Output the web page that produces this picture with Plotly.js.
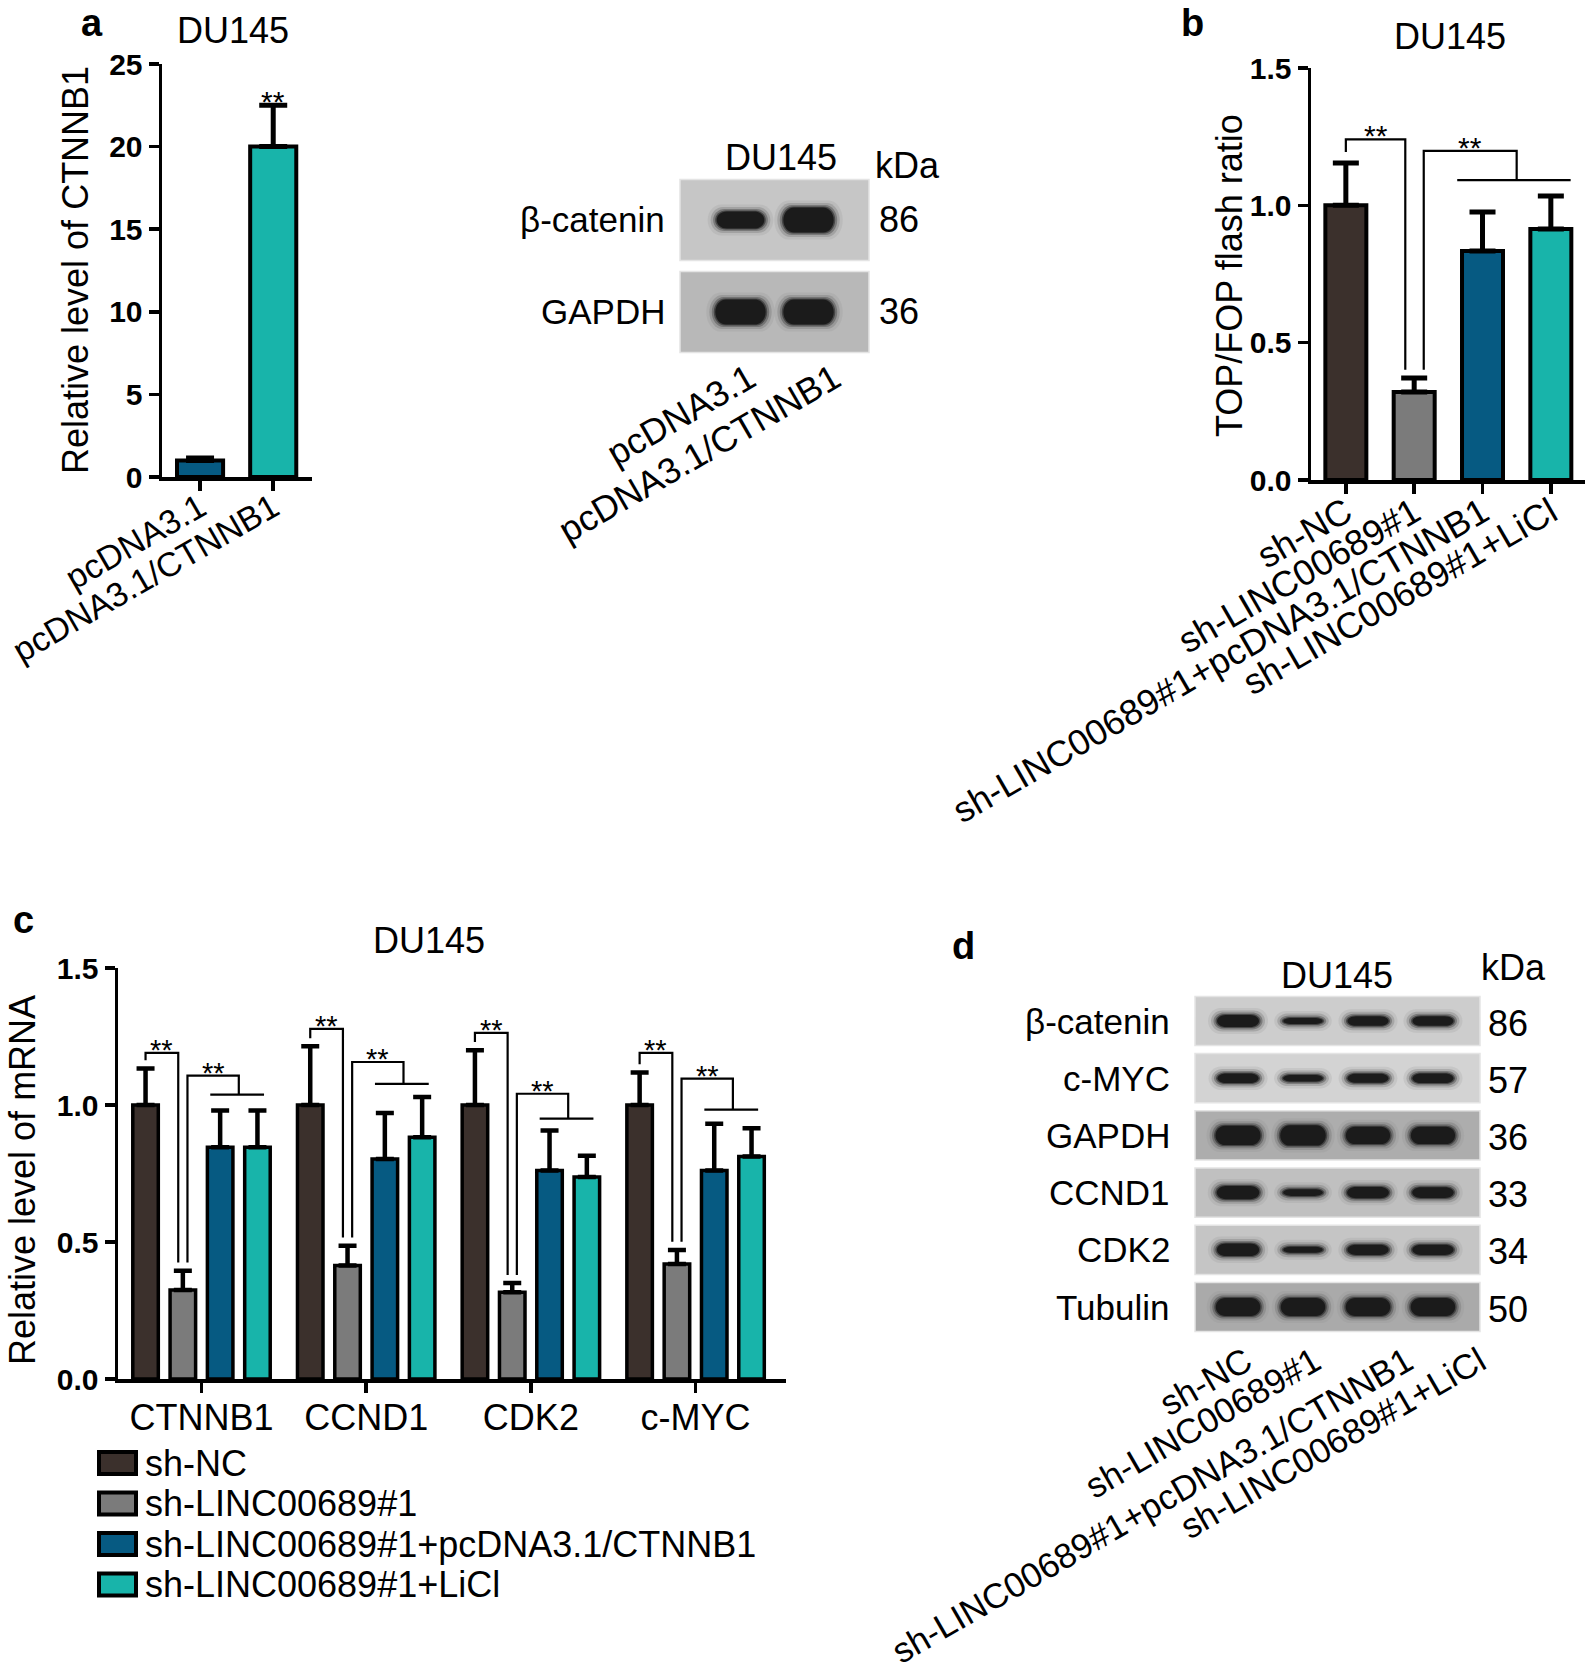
<!DOCTYPE html>
<html><head><meta charset="utf-8">
<script src="https://cdn.plot.ly/plotly-3.0.1.min.js"></script>
<style>html,body{margin:0;padding:0;background:#fff}#chart{width:1595px;height:1672px}</style>
</head><body><div id="chart"></div>
<script>
// ---------------- DATA ----------------
const cellLine = 'DU145';
// panel a – qPCR
const aCategories = ['pcDNA3.1', 'pcDNA3.1/CTNNB1'];
const aValues = [1.0, 20.0];
const aErrors = [0.15, 2.5];
// panel a – western blot (relative band density)
const aBlotProteins = ['β-catenin', 'GAPDH'];
const aBlotKDa = ['86', '36'];
const aBandBcat = [0.95, 1.4];
const aBandGapdh = [1.4, 1.4];
// panel b – TOP/FOP
const groups = ['sh-NC', 'sh-LINC00689#1', 'sh-LINC00689#1+pcDNA3.1/CTNNB1', 'sh-LINC00689#1+LiCl'];
const bValues = [1.0, 0.32, 0.834, 0.914];
const bErrors = [0.154, 0.051, 0.142, 0.12];
const bBracketTops = [1.24, 1.198];
const bBracketLine = 1.092;
// panel c – mRNA
const genes = ['CTNNB1', 'CCND1', 'CDK2', 'c-MYC'];
const cShNC = [1.0, 1.0, 1.0, 1.0];
const cShNCErr = [0.133, 0.214, 0.200, 0.119];
const cShLINC = [0.325, 0.414, 0.317, 0.420];
const cShLINCErr = [0.070, 0.072, 0.033, 0.051];
const cPlusCTNNB1 = [0.846, 0.803, 0.761, 0.761];
const cPlusCTNNB1Err = [0.134, 0.168, 0.146, 0.171];
const cPlusLiCl = [0.846, 0.882, 0.737, 0.812];
const cPlusLiClErr = [0.134, 0.147, 0.078, 0.103];
const cBracket1Top = [1.190, 1.278, 1.263, 1.190];
const cBracket2Top = [1.107, 1.157, 1.041, 1.096];
const cBracket2Line = [1.038, 1.077, 0.950, 0.983];
// panel d – western blot (relative band density)
const dProteins = ['β-catenin', 'c-MYC', 'GAPDH', 'CCND1', 'CDK2', 'Tubulin'];
const dKDa = ['86', '57', '36', '33', '34', '50'];
const dBcat = [1.0, 0.5, 0.8, 0.8];
const dCmyc = [0.8, 0.55, 0.75, 0.8];
const dGapdh = [1.6, 1.7, 1.45, 1.45];
const dCcnd1 = [1.1, 0.55, 0.95, 0.9];
const dCdk2 = [1.05, 0.5, 0.85, 0.85];
const dTubulin = [1.5, 1.5, 1.5, 1.5];

// ---------------- STYLE / LAYOUT ----------------
const W = 1595, H = 1672;
const fx = p => p / W, fy = p => 1 - p / H;
const FONT = 'Liberation Sans, Arial, Helvetica, sans-serif';
const palette = ['#3b302c', '#7b7b7b', '#065a82', '#18b4aa'];
const BLACK = '#000';

const traces = [];
const shapes = [];
const annotations = [];

function txt(x, y, text, opts) {
  annotations.push(Object.assign({x, y, text, xref: 'paper', yref: 'paper', showarrow: false,
    xanchor: 'center', yanchor: 'middle', font: {family: FONT, size: 36, color: BLACK}}, opts || {}));
}
function stars(xa, ya, x, y, size) {
  annotations.push({xref: xa, yref: ya, x: x, y: y, text: '**', showarrow: false, xanchor: 'center',
    yanchor: 'bottom', yshift: -Math.round(size * 0.5), font: {family: FONT, size: size, color: BLACK}});
}
function upErr(arr, w, th) {
  return {type: 'data', symmetric: false, array: arr, arrayminus: arr.map(() => 0),
    color: BLACK, thickness: th, width: w};
}
const barAxisY = (dom, range, tv, fmt, anchor) => ({domain: dom, range: range, tickvals: tv, tickformat: fmt,
  showline: true, linewidth: 3.5, linecolor: BLACK, ticks: 'outside', ticklen: 10, tickwidth: 3.5, anchor: anchor,
  tickcolor: BLACK, showgrid: false, zeroline: false, ticklabeloverflow: 'allow',
  tickfont: {family: FONT, size: 30, color: BLACK, weight: 'bold'}});
const barAxisX = (dom, range, tv, tt, angle, anchor, size, standoff) => ({domain: dom, range: range, tickvals: tv, ticktext: tt,
  tickangle: angle, showline: true, linewidth: 3.5, linecolor: BLACK, ticks: 'outside', ticklen: 10,
  tickwidth: 3.5, tickcolor: BLACK, showgrid: false, zeroline: false, anchor: anchor, ticklabeloverflow: 'allow',
  ticklabelstandoff: standoff, tickfont: {family: FONT, size: size, color: BLACK}});

// panel letters + titles
const letterFont = {family: FONT, size: 38, color: BLACK, weight: 'bold'};
txt(fx(92), 1, 'a', {font: letterFont, yanchor: 'top'});
txt(fx(1192), 1, 'b', {font: letterFont, yanchor: 'top'});
txt(fx(23), fy(920), 'c', {font: letterFont});
txt(fx(963), fy(946), 'd', {font: letterFont});
txt(fx(233), fy(31), cellLine);
txt(fx(781), fy(157), cellLine);
txt(fx(907), fy(165), 'kDa');
txt(fx(1450), fy(37), cellLine);
txt(fx(429), fy(940), cellLine);
txt(fx(1337), fy(975), cellLine);
txt(fx(1513), fy(967), 'kDa');
txt(fx(75), fy(270), 'Relative level of CTNNB1', {textangle: -90});
txt(fx(1229), fy(276), 'TOP/FOP flash ratio', {textangle: -90});
txt(fx(22), fy(1180), 'Relative level of mRNA', {textangle: -90});

// ---------- panel a bars ----------
traces.push({type: 'bar', xaxis: 'x', yaxis: 'y', x: aCategories.map((_, i) => i), y: aValues, width: 0.63,
  marker: {color: [palette[2], palette[3]], line: {color: BLACK, width: 4}},
  error_y: upErr(aErrors, 14, 5), hoverinfo: 'skip', showlegend: false});
stars('x', 'y', 1, aValues[1] + aErrors[1], 30);

// ---------- panel b bars ----------
const bx = groups.map((_, i) => i);
traces.push({type: 'bar', xaxis: 'x3', yaxis: 'y3', x: bx, y: bValues, width: 0.6,
  marker: {color: palette, line: {color: BLACK, width: 4}},
  error_y: upErr(bErrors, 13, 5), hoverinfo: 'skip', showlegend: false});
(function () {
  const top0 = bValues[0] + bErrors[0], top1 = bValues[1] + bErrors[1];
  const xs = [0, 0, 1 - 0.13, 1 - 0.13, null, 1 + 0.14, 1 + 0.14, 2.5, 2.5, null, 2 - 0.37, 3 + 0.29];
  const ys = [top0 + 0.04, bBracketTops[0], bBracketTops[0], top1 + 0.03, null,
    top1 + 0.03, bBracketTops[1], bBracketTops[1], bBracketLine, null, bBracketLine, bBracketLine];
  traces.push({type: 'scatter', mode: 'lines', xaxis: 'x3', yaxis: 'y3', x: xs, y: ys, cliponaxis: false,
    line: {color: BLACK, width: 2.2}, hoverinfo: 'skip', showlegend: false, connectgaps: false});
  stars('x3', 'y3', (0 + 1 - 0.13) / 2, bBracketTops[0], 30);
  stars('x3', 'y3', (1 + 0.14 + 2.5) / 2, bBracketTops[1], 30);
})();

// ---------- panel c grouped bars ----------
const cSeries = [cShNC, cShLINC, cPlusCTNNB1, cPlusLiCl];
const cErrs = [cShNCErr, cShLINCErr, cPlusCTNNB1Err, cPlusLiClErr];
const slot = 0.2265;
const offs = [0, 1, 2, 3].map(k => (k - 1.5) * slot);
cSeries.forEach((vals, k) => {
  traces.push({type: 'bar', xaxis: 'x4', yaxis: 'y4', x: genes.map((_, g) => g + offs[k]), y: vals, width: 0.155,
    marker: {color: palette[k], line: {color: BLACK, width: 3.5}}, name: groups[k],
    error_y: upErr(cErrs[k], 9, 4.5), hoverinfo: 'skip', showlegend: false});
});
(function () {
  const xs = [], ys = [];
  genes.forEach((_, g) => {
    const t0 = cShNC[g] + cShNCErr[g], t1 = cShLINC[g] + cShLINCErr[g];
    const xl = g + offs[0], xr = g + offs[1] - 0.028, xl2 = g + offs[1] + 0.028, xr2 = g + (offs[2] + offs[3]) / 2;
    xs.push(xl, xl, xr, xr, null, xl2, xl2, xr2, xr2, null, g + offs[2] - 0.06, g + offs[3] + 0.04, null);
    ys.push(t0 + 0.03, cBracket1Top[g], cBracket1Top[g], t1 + 0.03, null,
      t1 + 0.03, cBracket2Top[g], cBracket2Top[g], cBracket2Line[g], null, cBracket2Line[g], cBracket2Line[g], null);
    stars('x4', 'y4', (xl + xr) / 2, cBracket1Top[g], 29);
    stars('x4', 'y4', (xl2 + xr2) / 2, cBracket2Top[g], 29);
  });
  traces.push({type: 'scatter', mode: 'lines', xaxis: 'x4', yaxis: 'y4', x: xs, y: ys, cliponaxis: false,
    line: {color: BLACK, width: 2.2}, hoverinfo: 'skip', showlegend: false});
})();
// manual legend for panel c
groups.forEach((name, k) => {
  const yc = 1463 + k * 40.5;
  shapes.push({type: 'rect', xref: 'paper', yref: 'paper', x0: fx(99), x1: fx(136), y0: fy(yc - 11), y1: fy(yc + 11),
    fillcolor: palette[k], line: {color: BLACK, width: 4}});
  txt(fx(143), fy(yc), name, {xanchor: 'left'});
});

// ---------- blots ----------
function capsule(xc, yc, hw, hh, rx) {
  const k = 0.5523, xl = xc - hw, xr = xc + hw, y0 = yc - hh, y1 = yc + hh;
  return `M${xl + rx},${y0} L${xr - rx},${y0} C${xr - rx + k * rx},${y0} ${xr},${yc - k * hh} ${xr},${yc} ` +
    `C${xr},${yc + k * hh} ${xr - rx + k * rx},${y1} ${xr - rx},${y1} L${xl + rx},${y1} ` +
    `C${xl + rx - k * rx},${y1} ${xl},${yc + k * hh} ${xl},${yc} C${xl},${yc - k * hh} ${xl + rx - k * rx},${y0} ${xl + rx},${y0} Z`;
}
const bandLayers = [
  {dw: 18, dh: 14, c: '#8a8a8a', o: 0.18},
  {dw: 12, dh: 9, c: '#626262', o: 0.28},
  {dw: 7, dh: 5, c: '#404040', o: 0.42},
  {dw: 3, dh: 2, c: '#262626', o: 0.6},
  {dw: 0, dh: 0, c: '#141414', o: 0.85}];
function drawBlot(cfg) {
  cfg.rows.forEach((vals, r) => {
    shapes.push({type: 'rect', xref: cfg.xa + ' domain', yref: cfg.ya, x0: 0, x1: 1,
      y0: r - cfg.rowHalf, y1: r + cfg.rowHalf, fillcolor: cfg.bg[r], line: {color: '#e4e4e4', width: 1.5}, layer: 'above'});
    vals.forEach((v, lane) => {
      const hpx = cfg.hScale * v, wpx = cfg.wBase + cfg.wScale * v;
      bandLayers.forEach(L => {
        const hw = (wpx + L.dw) / 2 / cfg.xPx, hh = (hpx + L.dh) / 2 / cfg.yPx;
        shapes.push({type: 'path', xref: cfg.xa, yref: cfg.ya,
          path: capsule(lane, r, hw, hh, Math.min(hw * 0.42, 14 / cfg.xPx)),
          fillcolor: L.c, opacity: L.o, line: {width: 0}, layer: 'above'});
      });
    });
  });
}
// panel a blot geometry
const aBlotX = [680, 869], aBlotY = [174, 358];
const aXRange = [-0.889, 1.889];
const aLabelPos = [0.13, 1.38];
drawBlot({xa: 'x2', ya: 'y2', xPx: (aBlotX[1] - aBlotX[0]) / (aXRange[1] - aXRange[0]), yPx: 92,
  rows: [aBandBcat, aBandGapdh], bg: ['#c6c6c6', '#b8b8b8'], rowHalf: 0.44, hScale: 18, wBase: 42, wScale: 6});
aBlotProteins.forEach((p, r) => {
  annotations.push({xref: 'paper', yref: 'y2', x: fx(667), y: r, text: p, xanchor: 'right', yanchor: 'middle',
    showarrow: false, font: {family: FONT, size: 35, color: BLACK}});
  annotations.push({xref: 'paper', yref: 'y2', x: fx(877), y: r, text: aBlotKDa[r], xanchor: 'left', yanchor: 'middle',
    showarrow: false, font: {family: FONT, size: 36, color: BLACK}});
});
// panel d blot geometry
const dBlotX = [1195, 1480], dBlotY = [992.4, 1335.6];
const dXRange = [-0.662, 3.724];
const dLabelPos = [0.12, 1.18, 2.6, 3.72];
const dRows = [dBcat, dCmyc, dGapdh, dCcnd1, dCdk2, dTubulin];
drawBlot({xa: 'x5', ya: 'y5', xPx: (dBlotX[1] - dBlotX[0]) / (dXRange[1] - dXRange[0]), yPx: (dBlotY[1] - dBlotY[0]) / 6,
  rows: dRows, bg: ['#cdcdcd', '#d3d3d3', '#adadad', '#c0c0c0', '#c5c5c5', '#aaaaaa'], rowHalf: 0.43,
  hScale: 12, wBase: 37, wScale: 5});
dProteins.forEach((p, r) => {
  annotations.push({xref: 'paper', yref: 'y5', x: fx(1172), y: r, text: p, xanchor: 'right', yanchor: 'middle',
    showarrow: false, font: {family: FONT, size: 35, color: BLACK}});
  annotations.push({xref: 'paper', yref: 'y5', x: fx(1486), y: r, text: dKDa[r], xanchor: 'left', yanchor: 'middle',
    showarrow: false, yshift: -2, font: {family: FONT, size: 36, color: BLACK}});
});

const hiddenY = (dom, range, anchor) => ({domain: dom, range: range, visible: false, fixedrange: true, anchor: anchor});
const laneX = (dom, range, pos, labels, anchor, size, standoff) => ({domain: dom, range: range, tickvals: pos,
  ticktext: labels, tickangle: -30, ticks: '', showline: false, showgrid: false, zeroline: false, anchor: anchor,
  ticklabeloverflow: 'allow', ticklabelstandoff: standoff, tickfont: {family: FONT, size: size, color: BLACK}});

const layout = {
  width: W, height: H, margin: {l: 0, r: 0, t: 0, b: 0}, paper_bgcolor: '#fff', plot_bgcolor: 'rgba(0,0,0,0)',
  barmode: 'overlay', showlegend: false, font: {family: FONT, color: BLACK},
  xaxis: barAxisX([fx(162), fx(312)], [-0.52, 1.53], [0, 1], aCategories, -30, 'y', 34, -16),
  yaxis: barAxisY([fy(477), fy(64)], [0, 25], [0, 5, 10, 15, 20, 25], 'd', 'x'),
  xaxis2: laneX([fx(aBlotX[0]), fx(aBlotX[1])], aXRange, aLabelPos, aCategories, 'y2', 36, -8),
  yaxis2: hiddenY([fy(aBlotY[1]), fy(aBlotY[0])], [1.5, -0.5], 'x2'),
  xaxis3: barAxisX([fx(1311), fx(1585)], [-0.51, 3.5], bx, groups, -30, 'y3', 36, -16),
  yaxis3: barAxisY([fy(480), fy(68)], [0, 1.5], [0, 0.5, 1, 1.5], '.1f', 'x3'),
  xaxis4: barAxisX([fx(118), fx(786)], [-0.507, 3.549], genes.map((_, i) => i), genes, 0, 'y4', 36, -6),
  yaxis4: barAxisY([fy(1379), fy(968)], [0, 1.5], [0, 0.5, 1, 1.5], '.1f', 'x4'),
  xaxis5: laneX([fx(dBlotX[0]), fx(dBlotX[1])], dXRange, dLabelPos, groups, 'y5', 35, -2),
  yaxis5: hiddenY([fy(dBlotY[1]), fy(dBlotY[0])], [5.5, -0.5], 'x5'),
  shapes: shapes, annotations: annotations
};

Plotly.newPlot('chart', traces, layout, {staticPlot: true, displayModeBar: false});
</script></body></html>
